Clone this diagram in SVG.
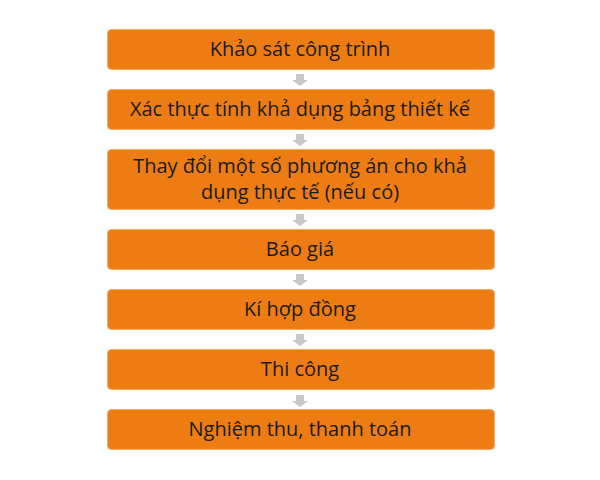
<svg xmlns="http://www.w3.org/2000/svg" width="600" height="480" viewBox="0 0 600 480">
<style>
.box{fill:#ED7D13;stroke:#F4A968;stroke-width:1}
.t{font-family:"Open Sans","Noto Sans","DejaVu Sans",sans-serif;font-size:20px;fill:#1a1a1a;text-anchor:middle}
.arr{fill:#C8C8C8}
</style>
<defs>
<path id="a" d="M-4,0 H4 V6 H8 L0,12 L-8,6 H-4 Z"/>
</defs>
<rect width="600" height="480" fill="#fff"/>
<g id="connectors">
<use href="#a" class="arr" x="300" y="74"/>
<use href="#a" class="arr" x="300" y="134"/>
<use href="#a" class="arr" x="300" y="214"/>
<use href="#a" class="arr" x="300" y="274"/>
<use href="#a" class="arr" x="300" y="334"/>
<use href="#a" class="arr" x="300" y="395"/>
</g>
<g id="n1"><rect class="box" x="107.5" y="29.5" width="387" height="40" rx="4"/><text class="t" x="300" y="56">Khảo sát công trình</text></g>
<g id="n2"><rect class="box" x="107.5" y="89.5" width="387" height="40" rx="4"/><text class="t" x="300" y="116">Xác thực tính khả dụng bảng thiết kế</text></g>
<g id="n3"><rect class="box" x="107.5" y="149.5" width="387" height="60" rx="4"/><text class="t" x="300" y="173">Thay đổi một số phương án cho khả</text><text class="t" x="300" y="199">dụng thực tế (nếu có)</text></g>
<g id="n4"><rect class="box" x="107.5" y="229.5" width="387" height="40" rx="4"/><text class="t" x="300" y="256">Báo giá</text></g>
<g id="n5"><rect class="box" x="107.5" y="289.5" width="387" height="40" rx="4"/><text class="t" x="300" y="316">Kí hợp đồng</text></g>
<g id="n6"><rect class="box" x="107.5" y="349.5" width="387" height="40" rx="4"/><text class="t" x="300" y="376">Thi công</text></g>
<g id="n7"><rect class="box" x="107.5" y="409.5" width="387" height="40" rx="4"/><text class="t" x="300" y="436">Nghiệm thu, thanh toán</text></g>
</svg>
